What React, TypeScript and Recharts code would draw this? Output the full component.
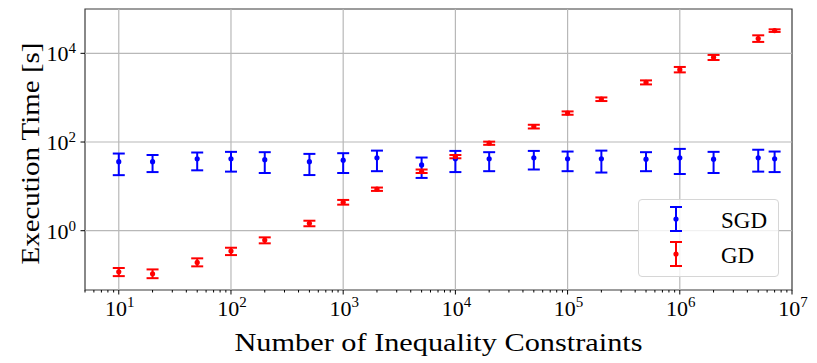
import { ScatterChart, Scatter, XAxis, YAxis, ErrorBar, ReferenceLine, ReferenceArea, Legend } from "recharts";

// number of inequality constraints
const constraintCounts = [10, 20, 50, 100, 200, 500, 1000, 2000, 5000, 1e4, 2e4, 5e4, 1e5, 2e5, 5e5, 1e6, 2e6, 5e6, 7e6];

// SGD execution time [s]: mean, lower and upper end of the error bar
const sgdMean = [36, 36, 41.7, 41.7, 40, 36, 39, 44, 30.5, 42, 41.7, 44, 42, 42, 41, 44, 41, 44, 41.7];
const sgdLow = [17.9, 21, 23, 21.5, 20, 18, 20, 22, 15.5, 21, 22, 24, 22, 20.5, 22, 19, 20, 21.5, 21];
const sgdHigh = [55, 51, 58, 60, 59, 54, 56, 64, 44.7, 63, 59, 63, 61, 64, 59, 70, 60, 67, 61];

// GD execution time [s]
const gdMean = [0.118, 0.107, 0.193, 0.348, 0.616, 1.47, 4.38, 8.62, 21.5, 47, 94.4, 224, 450, 931, 2213, 4285, 8128, 21500, 32600];
const gdLow = [0.0946, 0.085, 0.157, 0.282, 0.519, 1.26, 3.87, 7.9, 20, 43, 86.5, 202, 412, 840, 1991, 3720, 7080, 18100, 30400];
const gdHigh = [0.144, 0.134, 0.238, 0.413, 0.708, 1.68, 4.94, 9.4, 24, 51, 102, 245, 490, 1013, 2455, 4930, 9200, 25500, 34800];

const seriesOrder = ["SGD", "GD"];

// axis ticks
const xMajorTicks = [10, 100, 1000, 1e4, 1e5, 1e6, 1e7];
const yMajorTicks = [1, 100, 1e4];
const xDomain = [5, 1e7];
const yDomain = [0.046, 1e5];

const xMinorTicks: number[] = [];
[1, ...xMajorTicks].forEach((d) => {
  for (let m = 2; m <= 9; m++) {
    const v = d * m;
    if (v >= xDomain[0] && v <= xDomain[1]) xMinorTicks.push(v);
  }
});
const xTicks = [...xMajorTicks, ...xMinorTicks].sort((a, b) => a - b);

const makeRows = (mean: number[], low: number[], high: number[]) =>
  constraintCounts.map((n, i) => ({
    n,
    t: mean[i],
    err: [mean[i] - low[i], high[i] - mean[i]],
  }));

const sgdRows = makeRows(sgdMean, sgdLow, sgdHigh);
const gdRows = makeRows(gdMean, gdLow, gdHigh);

const FONT = "Liberation Serif, serif";
const isMajor = (v: number) => Math.abs(Math.log10(v) - Math.round(Math.log10(v))) < 1e-9;

const XTick = (props: any) => {
  const { x, y, payload } = props;
  const v = payload.value;
  if (!isMajor(v)) {
    return <line x1={x} x2={x} y1={y} y2={y + 2.5} stroke="#000" strokeWidth={1} />;
  }
  const exp = Math.round(Math.log10(v));
  return (
    <g>
      <line x1={x} x2={x} y1={y} y2={y + 4.5} stroke="#000" strokeWidth={1} />
      <text x={x + 1} y={y + 26} textAnchor="middle" style={{ fontFamily: FONT }} fontSize={22} fill="#000">
        10
        <tspan dy={-9} fontSize={15}>{exp}</tspan>
      </text>
    </g>
  );
};

const YTick = (props: any) => {
  const { x, y, payload } = props;
  const exp = Math.round(Math.log10(payload.value));
  return (
    <g>
      <line x1={x} x2={x - 4.5} y1={y} y2={y} stroke="#000" strokeWidth={1} />
      <text x={x - 9} y={y + 8} textAnchor="end" style={{ fontFamily: FONT }} fontSize={22} fill="#000">
        10
        <tspan dy={-8} fontSize={15}>{exp}</tspan>
      </text>
    </g>
  );
};

const Dot = (props: any) => <circle cx={props.cx} cy={props.cy} r={2.6} fill={props.fill} />;

const LegendBox = ({ payload }: any) => {
  const items = [...(payload || [])].sort(
    (a: any, b: any) => seriesOrder.indexOf(a.value) - seriesOrder.indexOf(b.value)
  );
  return (
    <div
      style={{
        width: 141,
        height: 78,
        boxSizing: "border-box",
        border: "1px solid #d6d6d6",
        borderRadius: 4,
        background: "rgba(255,255,255,0.8)",
      }}
    >
      <svg width={139} height={76} style={{ display: "block" }}>
        {items.map((p: any, i: number) => {
          const cy = 19 + i * 35;
          return (
            <g key={p.value}>
              <line x1={37} x2={37} y1={cy - 12} y2={cy + 12} stroke={p.color} strokeWidth={2} />
              <line x1={31} x2={43} y1={cy - 12} y2={cy - 12} stroke={p.color} strokeWidth={2} />
              <line x1={31} x2={43} y1={cy + 12} y2={cy + 12} stroke={p.color} strokeWidth={2} />
              <circle cx={37} cy={cy} r={2.6} fill={p.color} />
              <text x={82} y={cy + 8.5} style={{ fontFamily: FONT }} fontSize={23} fill="#000">
                {p.value}
              </text>
            </g>
          );
        })}
      </svg>
    </div>
  );
};

export default function App() {
  return (
    <div style={{ position: "absolute", left: 0, top: 0, background: "#fff" }}>
      <ScatterChart width={817} height={363} margin={{ top: 9, right: 25, left: 0, bottom: 0 }}>
        <XAxis
          dataKey="n"
          type="number"
          scale="log"
          domain={xDomain}
          allowDataOverflow
          ticks={xTicks}
          interval={0}
          tick={<XTick />}
          tickLine={false}
          tickSize={0}
          tickMargin={0}
          axisLine={false}
          height={73}
          label={{
            content: (p: any) => (
              <text
                x={p.viewBox.x + p.viewBox.width / 2}
                y={p.viewBox.y + 61}
                textAnchor="middle"
                style={{ fontFamily: FONT }}
                fontSize={26}
                textLength={408}
                lengthAdjust="spacingAndGlyphs"
                fill="#000"
              >
                Number of Inequality Constraints
              </text>
            ),
          }}
        />
        <YAxis
          dataKey="t"
          type="number"
          scale="log"
          domain={yDomain}
          allowDataOverflow
          ticks={yMajorTicks}
          interval={0}
          tick={<YTick />}
          tickLine={false}
          tickSize={0}
          tickMargin={0}
          axisLine={false}
          width={85}
          label={{
            content: (p: any) => {
              const cx = 39;
              const cy = p.viewBox.y + p.viewBox.height / 2 + 4;
              return (
                <text
                  x={cx}
                  y={cy}
                  transform={`rotate(-90, ${cx}, ${cy})`}
                  textAnchor="middle"
                  style={{ fontFamily: FONT }}
                  fontSize={26}
                  textLength={222}
                  lengthAdjust="spacingAndGlyphs"
                  fill="#000"
                >
                  Execution Time [s]
                </text>
              );
            },
          }}
        />
        {xMajorTicks.slice(0, -1).map((v) => (
          <ReferenceLine key={`gx${v}`} x={v} stroke="#b8b8b8" strokeWidth={1.2} />
        ))}
        {yMajorTicks.map((v) => (
          <ReferenceLine key={`gy${v}`} y={v} stroke="#b8b8b8" strokeWidth={1.2} />
        ))}
        <ReferenceArea
          x1={xDomain[0]}
          x2={xDomain[1]}
          y1={yDomain[0]}
          y2={yDomain[1]}
          fill="none"
          fillOpacity={0}
          stroke="#3a3a3a"
          strokeWidth={1.2}
        />
        <Scatter name="SGD" data={sgdRows} fill="#0000ff" shape={<Dot />} isAnimationActive={false}>
          <ErrorBar dataKey="err" direction="y" width={6} stroke="#0000ff" strokeWidth={2} />
        </Scatter>
        <Scatter name="GD" data={gdRows} fill="#ff0000" shape={<Dot />} isAnimationActive={false}>
          <ErrorBar dataKey="err" direction="y" width={6} stroke="#ff0000" strokeWidth={2} />
        </Scatter>
        <Legend
          layout="vertical"
          align="center"
          verticalAlign="middle"
          content={<LegendBox />}
          wrapperStyle={{ position: "absolute", left: 638, top: 199, width: 141, height: 78 }}
        />
      </ScatterChart>
    </div>
  );
}
